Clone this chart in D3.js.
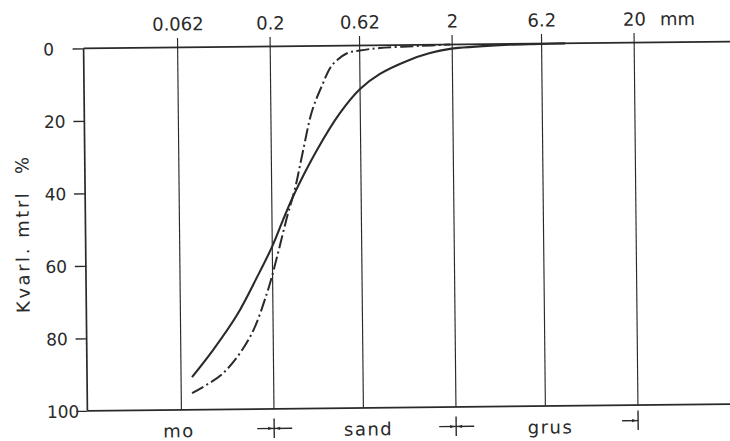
<!DOCTYPE html>
<html><head><meta charset="utf-8">
<script src="https://cdn.jsdelivr.net/npm/d3@7"></script>
<style>html,body{margin:0;padding:0;background:#fff;} svg{display:block;}</style>
</head><body>
<svg id="chart" width="730" height="441"></svg>
<script>
// ---- data ----
const sizeTicks = [0.062, 0.2, 0.62, 2, 6.2, 20];
const sizeTickLabels = ["0.062", "0.2", "0.62", "2", "6.2", "20"];
const pctTicks = [0, 20, 40, 60, 80, 100];
const solidSize = [0.0712, 0.0932, 0.1268, 0.1643, 0.1993, 0.230, 0.2617, 0.3567, 0.479, 0.62, 0.799, 1.127, 1.508, 1.946, 3.66, 6.08, 8.35];
const solidPct  = [91.0, 83.6, 74.0, 63.6, 55.3, 47.9, 41.5, 28.7, 18.6, 12.0, 7.9, 4.4, 2.3, 1.2, 0.3, 0.1, 0];
const dashSize = [0.0711, 0.1055, 0.149, 0.186, 0.212, 0.242, 0.269, 0.298, 0.3365, 0.383, 0.436, 0.528, 0.62, 0.80, 1.33, 1.95];
const dashPct  = [95.4, 90.0, 80.1, 68.0, 58.1, 47.1, 39.2, 29.2, 18.0, 11.0, 5.4, 2.1, 1.4, 0.75, 0.3, 0];
const fractionNames = ["mo", "sand", "grus"];
const fractionCenters = [0.06, 0.66, 6.6];
const boundarySizes = [0.2, 2, 20];
const boundaryKinds = ["mid", "mid", "end"];
const unitLabel = "mm";
const yTitle = "Kvarl. mtrl  %";

// ---- drawing ----
const ink = "#2a2a2a";
const font = "DejaVu Sans, Verdana, sans-serif";
const svg = d3.select("#chart");
svg.append("rect").attr("width", 730).attr("height", 441).attr("fill", "#fff");
const g = svg.append("g").attr("transform", "rotate(-0.6,407,228)");

const x = d3.scaleLog().domain([0.01887, 64.4]).range([85.5, 728.5]);
const y = d3.scaleLinear().domain([0, 100]).range([45, 407.5]);
const [x0, x1] = x.range();
const [yTop, yBot] = y.range();

// grid lines (sieve sizes)
g.selectAll("line.grid").data(sizeTicks).join("line")
  .attr("class", "grid")
  .attr("x1", d => x(d)).attr("x2", d => x(d))
  .attr("y1", yTop - 9.5).attr("y2", yBot)
  .attr("stroke", ink).attr("stroke-width", 1.15);

// frame
g.append("line").attr("x1", x0).attr("x2", x1 + 6).attr("y1", yTop).attr("y2", yTop)
  .attr("stroke", ink).attr("stroke-width", 1.7);
g.append("line").attr("x1", x0).attr("x2", x1 + 6).attr("y1", yBot).attr("y2", yBot)
  .attr("stroke", ink).attr("stroke-width", 1.7);
g.append("line").attr("x1", x0).attr("x2", x0).attr("y1", yTop).attr("y2", yBot)
  .attr("stroke", ink).attr("stroke-width", 1.7);

// left axis
const yAxis = g.append("g").attr("transform", `translate(${x0},0)`)
  .call(d3.axisLeft(y).tickValues(pctTicks).tickSize(11).tickPadding(0));
yAxis.select(".domain").remove();
yAxis.selectAll(".tick line").attr("stroke", ink).attr("stroke-width", 1.3);
yAxis.selectAll(".tick text")
  .attr("x", -40.5).attr("text-anchor", "start").attr("dy", "0.36em")
  .attr("fill", ink).style("font-family", font).style("font-size", "17px");

// top axis labels
const xAxis = g.append("g").attr("transform", "translate(0,31)")
  .call(d3.axisTop(x).tickValues(sizeTicks).tickFormat((d, i) => sizeTickLabels[i]).tickSize(0).tickPadding(3));
xAxis.select(".domain").remove();
xAxis.selectAll(".tick text").attr("dy", "0em")
  .attr("fill", ink).style("font-family", font).style("font-size", "18px");

g.append("text").attr("x", x(20) + 26).attr("y", 28).text(unitLabel)
  .attr("fill", ink).style("font-family", font).style("font-size", "18px");

// y title
g.append("text").attr("transform", "translate(29,231) rotate(-90)")
  .attr("text-anchor", "middle").attr("textLength", 156).attr("lengthAdjust", "spacing")
  .style("white-space", "pre").text(yTitle)
  .attr("fill", ink).style("font-family", font).style("font-size", "18px");

// fraction names
g.selectAll("text.frac").data(fractionNames).join("text")
  .attr("class", "frac")
  .attr("x", (d, i) => x(fractionCenters[i])).attr("y", 435)
  .attr("text-anchor", "middle").text(d => d)
  .attr("fill", ink).style("font-family", font).style("font-size", "18px")
  .style("letter-spacing", "1.5px");

// boundary markers
const bm = g.selectAll("g.bm").data(boundarySizes).join("g").attr("class", "bm")
  .attr("transform", (d, i) => `translate(${x(d)},${boundaryKinds[i] === "mid" ? 427 : 423})`);
bm.append("line").attr("x1", 0).attr("x2", 0).attr("y1", -10).attr("y2", 9.5)
  .attr("stroke", ink).attr("stroke-width", 1.4);
bm.append("line").attr("x1", (d, i) => boundaryKinds[i] === "mid" ? -17 : -16)
  .attr("x2", (d, i) => boundaryKinds[i] === "mid" ? 18 : 0)
  .attr("y1", 0).attr("y2", 0).attr("stroke", ink).attr("stroke-width", 1.4);
bm.append("path").attr("d", "M-6,-1.6L-1,0L-6,1.6Z").attr("fill", ink);
bm.filter((d, i) => boundaryKinds[i] === "mid")
  .append("path").attr("d", "M6,-1.6L1,0L6,1.6Z").attr("fill", ink);

// curves
const line = d3.line().x(d => x(d[0])).y(d => y(d[1])).curve(d3.curveCatmullRom.alpha(0.5));
g.append("path").datum(d3.zip(solidSize, solidPct)).attr("d", line)
  .attr("fill", "none").attr("stroke", ink).attr("stroke-width", 2.1)
  .attr("stroke-linejoin", "round");
g.append("path").datum(d3.zip(dashSize, dashPct)).attr("d", line)
  .attr("fill", "none").attr("stroke", ink).attr("stroke-width", 2)
  .attr("stroke-dasharray", "13,3.5,2,3.5");
</script>
</body></html>
